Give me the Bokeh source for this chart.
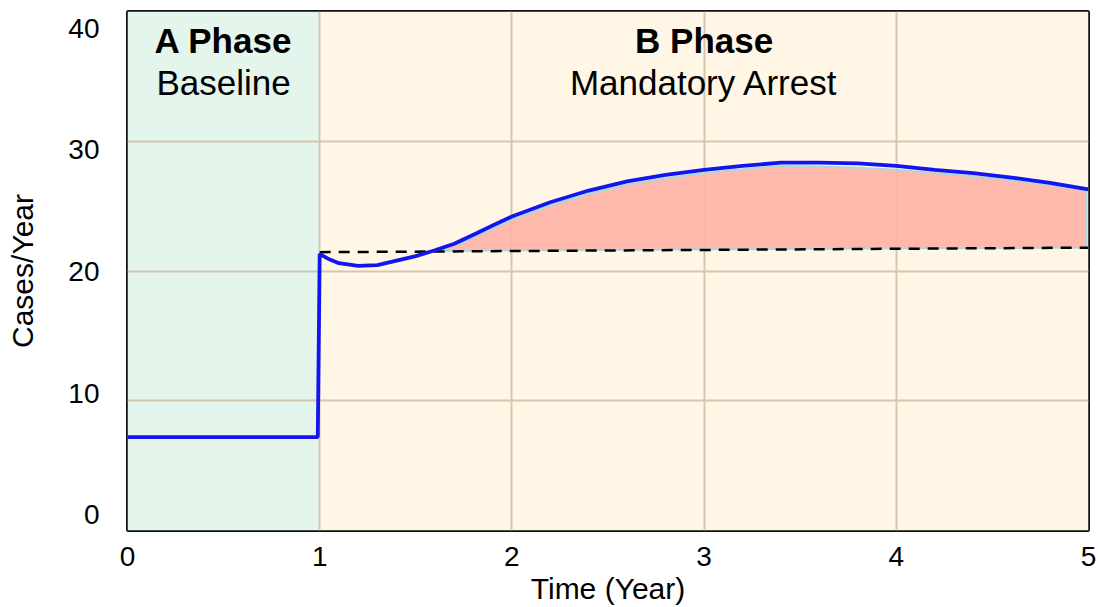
from bokeh.plotting import figure
from bokeh.models import Range1d, FixedTicker, ColumnDataSource
from bokeh.core.properties import value
from bokeh.embed import file_html
from bokeh.resources import INLINE

# ---- data ----
phase_start = [0, 1]
phase_end = [1, 5]
phase_colors = ["#e4f5eb", "#fff6e6"]
phase_names = ["A Phase", "B Phase"]
phase_desc = ["Baseline", "Mandatory Arrest"]
phase_label_x = [0.5, 3.0]

time = [0, 0.99, 1.0, 1.05, 1.1, 1.2, 1.3, 1.4, 1.5, 1.6, 1.7, 1.8, 1.9, 2.0,
        2.2, 2.4, 2.6, 2.8, 3.0, 3.2, 3.4, 3.6, 3.8, 4.0, 4.2, 4.4, 4.6, 4.8, 5.0]
cases = [7.2, 7.2, 21.3, 20.9, 20.6, 20.4, 20.45, 20.8, 21.15, 21.6, 22.1, 22.8, 23.5, 24.2,
         25.3, 26.2, 26.9, 27.4, 27.8, 28.1, 28.35, 28.35, 28.3, 28.1, 27.8, 27.55, 27.2, 26.8, 26.3]

ref_time = [1.0, 5.0]
ref_cases = [21.45, 21.8]

fill_time = [1.6, 1.7, 1.8, 1.9, 2.0, 2.2, 2.4, 2.6, 2.8, 3.0, 3.2, 3.4, 3.6, 3.8,
             4.0, 4.2, 4.4, 4.6, 4.8, 4.99]
fill_upper = [21.55, 21.95, 22.55, 23.25, 23.95, 25.05, 25.95, 26.65, 27.15, 27.55, 27.85, 28.1,
              28.05, 27.95, 27.8, 27.55, 27.3, 27.0, 26.6, 26.2]
fill_lower = [21.55, 21.56, 21.57, 21.58, 21.6, 21.6, 21.62, 21.64, 21.65, 21.67, 21.68, 21.7,
              21.72, 21.73, 21.75, 21.76, 21.77, 21.78, 21.79, 21.8]

x_ticks = [0, 1, 2, 3, 4, 5]
y_ticks = [0, 10, 20, 30, 40]

FONT = "Liberation Sans"

p = figure(width=1098, height=607, output_backend="svg", toolbar_location=None,
           x_range=Range1d(0, 5), y_range=Range1d(0, 40),
           min_border_left=127, min_border_right=10, min_border_top=11, min_border_bottom=75)
p.background_fill_color = "white"
p.border_fill_color = "white"
p.outline_line_color = "#111111"
p.outline_line_width = 3

# the tick labels of the value axis sit slightly inside the 0..40 span in the
# original (the top label is drawn below the frame edge), so the axis uses its
# own slightly wider label range
p.extra_y_ranges = {"labels": Range1d(-1.31, 41.39)}
p.yaxis.y_range_name = "labels"

# phase backgrounds
p.quad(left=phase_start, right=phase_end, bottom=0, top=40, color=phase_colors,
       line_color=None, level="image")

# grid
for g in (p.xgrid, p.ygrid):
    g.grid_line_color = "#d3c7b0"
    g.grid_line_width = 2
p.xgrid.ticker = FixedTicker(ticks=x_ticks)
p.ygrid.ticker = FixedTicker(ticks=y_ticks)

# fill area
p.varea(x=fill_time, y1=fill_lower, y2=fill_upper, fill_color="#ffb3a5", fill_alpha=0.9)
p.line(fill_time, fill_upper, line_color="#a9d9de", line_width=2)
p.line(fill_time, fill_lower, line_color="#a9d9de", line_width=2)
p.line([fill_time[-1], fill_time[-1]], [fill_lower[-1], fill_upper[-1]],
       line_color="#a9d9de", line_width=2)

# reference dashed line
p.line(ref_time, ref_cases, line_color="black", line_width=2.5, line_dash="11 8")

# main series
p.line(time, cases, line_color="#1414f0", line_width=3.8)

# phase labels
src = ColumnDataSource(dict(x=phase_label_x, name=phase_names, desc=phase_desc))
p.text(x="x", y=37.75, text="name", source=src, text_align="center", text_baseline="middle",
       text_font=value(FONT), text_font_style="bold", text_font_size="35px", text_color="black")
p.text(x="x", y=34.55, text="desc", source=src, text_align="center", text_baseline="middle",
       text_font=value(FONT), text_font_size="35px", text_color="black")

# axes
for ax in (p.xaxis, p.yaxis):
    ax.axis_line_color = None
    ax.major_tick_line_color = None
    ax.minor_tick_line_color = None
    ax.major_label_text_font = FONT
    ax.major_label_text_font_size = "28px"
    ax.major_label_text_color = "black"
    ax.axis_label_text_font = FONT
    ax.axis_label_text_font_size = "30px"
    ax.axis_label_text_font_style = "normal"
    ax.axis_label_text_color = "black"
p.xaxis.ticker = FixedTicker(ticks=x_ticks)
p.yaxis.ticker = FixedTicker(ticks=y_ticks)
p.xaxis.axis_label = "Time (Year)"
p.yaxis.axis_label = "Cases/Year"
p.xaxis.major_label_standoff = 10
p.yaxis.major_label_standoff = 22
p.xaxis.axis_label_standoff = 3
p.yaxis.axis_label_standoff = 26

open("out.html", "w").write(file_html(p, INLINE))
